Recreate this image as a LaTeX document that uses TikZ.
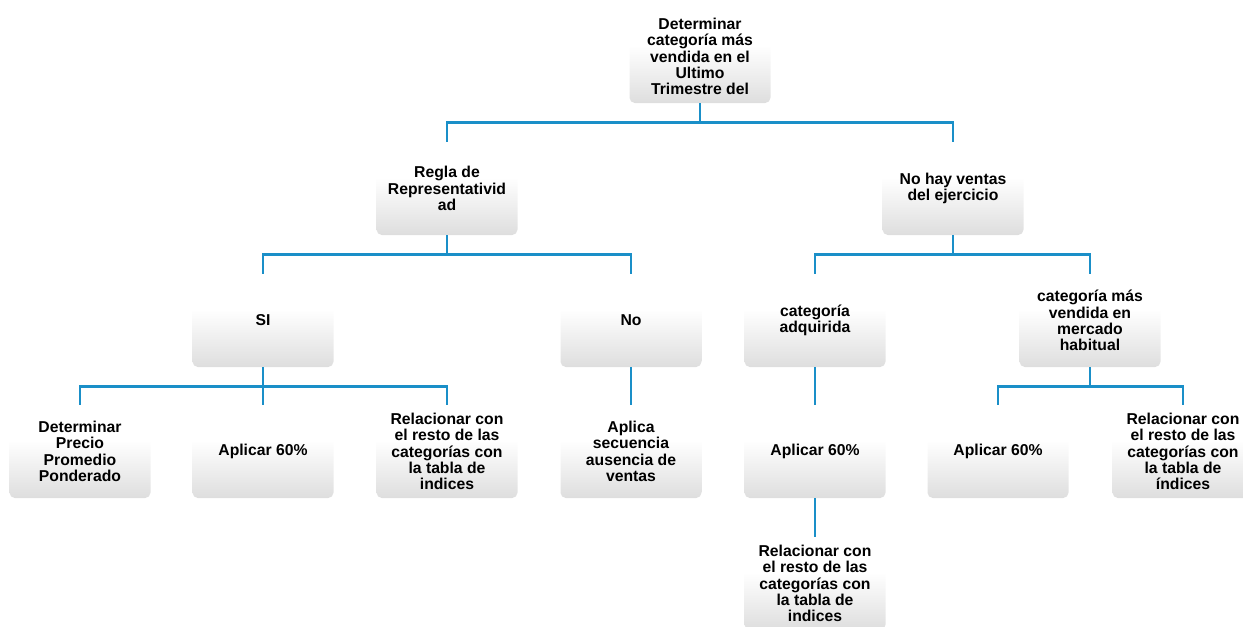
\documentclass[tikz,border=0pt]{standalone}
\usepackage{fontspec}
\setmainfont{Liberation Sans}
\usepackage{tikz}
\usetikzlibrary{positioning,calc}

\definecolor{azulLinea}{RGB}{26,143,200}
\pgfdeclareverticalshading{sombraCaja}{100bp}{color(0bp)=(black!13); color(25bp)=(black!13);
  color(56bp)=(white); color(100bp)=(white)}

\tikzset{
  caja/.style={rectangle,rounded corners=4pt,minimum width=105.75pt,minimum height=69.75pt,
    inner sep=0pt,align=center,shading=sombraCaja,
    font=\fontsize{11.8}{12.3}\selectfont\bfseries},
  conector/.style={draw=azulLinea,line width=2.2pt}
}

\begin{document}
\begin{tikzpicture}[x=0.75pt,y=-0.75pt]
\useasboundingbox (0,0) rectangle (1243,626);
\clip (0,0) rectangle (1243,626);
\node[caja] (raiz) at (700,56.5) {Determinar\\categoría más\\vendida en el\\Ultimo\\Trimestre del};
\node[caja] (regla) at (447,188.5) {Regla de\\Representativid\\ad};
\node[caja] (nohay) at (953,188.5) {No hay ventas\\del ejercicio};
\node[caja] (si) at (263,320.5) {SI};
\node[caja] (no) at (631,320.5) {No};
\node[caja] (adq) at (815,320.5) {categoría\\adquirida};
\node[caja] (habit) at (1090,320.5) {categoría más\\vendida en\\mercado\\habitual};
\node[caja] (precio) at (80,451.5) {Determinar\\Precio\\Promedio\\Ponderado};
\node[caja] (aplicA) at (263,451.5) {Aplicar 60\%};
\node[caja] (relA) at (447,451.5) {Relacionar con\\el resto de las\\categorías con\\la tabla de\\indices};
\node[caja] (secuencia) at (631,451.5) {Aplica\\secuencia\\ausencia de\\ventas};
\node[caja] (aplicB) at (815,451.5) {Aplicar 60\%};
\node[caja] (aplicC) at (998,451.5) {Aplicar 60\%};
\node[caja] (relC) at (1183,451.5) {Relacionar con\\el resto de las\\categorías con\\la tabla de\\índices};
\node[caja] (relB) at (815,583.5) {Relacionar con\\el resto de las\\categorías con\\la tabla de\\indices};
\foreach \a/\b in {raiz/regla,raiz/nohay,regla/si,regla/no,nohay/adq,nohay/habit,
  si/precio,si/aplicA,si/relA,no/secuencia,adq/aplicB,aplicB/relB,habit/aplicC,habit/relC}
  \draw[conector] (\a.south) -- ++(0,19.5) -| (\b.north);
\end{tikzpicture}
\end{document}
